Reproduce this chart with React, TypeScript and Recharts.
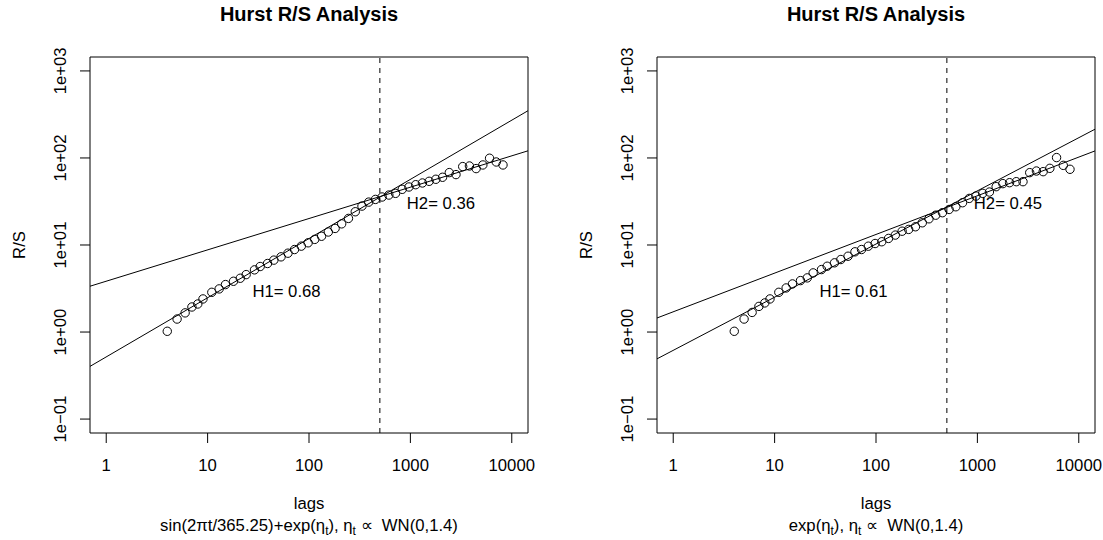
import React from 'react';
import {
  ComposedChart,
  Scatter,
  XAxis,
  YAxis,
  ReferenceLine,
  ReferenceArea,
  ReferenceDot,
} from 'recharts';

// ---------- data ----------
const LAGS = [4, 5, 6, 7, 8, 9, 11, 13, 15, 18, 21, 24, 29, 33, 39, 45, 53, 62, 72, 84, 98, 114, 133, 155, 181, 210, 245, 286, 333, 388, 452, 526, 613, 714, 831, 968, 1128, 1314, 1531, 1783, 2077, 2419, 2817, 3281, 3821, 4451, 5184, 6038, 7032, 8192];

const RS_SIN = [1.02, 1.41, 1.66, 1.94, 2.1, 2.4, 2.86, 3.13, 3.51, 3.83, 4.15, 4.57, 5.18, 5.66, 6.13, 6.7, 7.31, 8.05, 8.87, 9.7, 10.6, 11.6, 12.6, 14.1, 15.5, 17.5, 20.2, 24.1, 28.0, 31.1, 33.4, 35.6, 37.5, 39.2, 43.6, 46.4, 49.3, 51.6, 53.9, 56.9, 60.0, 67.9, 64.4, 79.6, 80.9, 75.5, 83.1, 99.3, 89.9, 83.1];

const RS_EXP = [1.02, 1.41, 1.68, 1.97, 2.16, 2.4, 2.86, 3.21, 3.57, 3.9, 4.19, 4.78, 5.22, 5.7, 6.24, 6.81, 7.43, 8.35, 8.87, 9.69, 10.4, 10.9, 11.9, 13.0, 14.4, 15.1, 16.2, 18.0, 20.0, 22.0, 23.5, 25.6, 27.5, 30.6, 34.3, 36.5, 39.2, 40.6, 46.8, 50.7, 52.0, 53.4, 53.4, 67.8, 70.8, 69.6, 76.0, 101, 82.2, 74.1];

const X_MIN = 0.6918;
const X_MAX = 14454;
const Y_MIN = 0.06918;
const Y_MAX = 1445.4;
const X_TICKS = [1, 10, 100, 1000, 10000];
const X_TICK_LABELS = ['1', '10', '100', '1000', '10000'];
const Y_TICKS = [0.1, 1, 10, 100, 1000];
const Y_TICK_LABELS = ['1e\u221201', '1e+00', '1e+01', '1e+02', '1e+03'];

const BREAK_LAG = 500;

// fitted lines: [y at X_MIN, y at X_MAX]
const FIT_SIN_H1 = [0.403, 349];
const FIT_SIN_H2 = [3.36, 120.8];
const FIT_EXP_H1 = [0.492, 214];
const FIT_EXP_H2 = [1.45, 120.5];

const LABEL_H1_POS = [60, 3];
const LABEL_H2_POS = [2000, 30];

const FONT = '"Liberation Sans", Arial, Helvetica, sans-serif';
const FS = 16.7;

type PanelProps = {
  left: number;
  width: number;
  rs: number[];
  fit1: number[];
  fit2: number[];
  h1: string;
  h2: string;
  sub: React.ReactNode;
};

const XTick = (props: any) => {
  const { x, y, payload } = props;
  const i = X_TICKS.indexOf(payload.value);
  return (
    <text x={x} y={y + 26} textAnchor="middle" fontFamily={FONT} fontSize={FS} fill="#000">
      {X_TICK_LABELS[i]}
    </text>
  );
};

const YTick = (props: any) => {
  const { x, y, payload } = props;
  const i = Y_TICKS.findIndex((t) => Math.abs(t - payload.value) < t * 1e-6);
  const bx = x - 12;
  return (
    <text
      x={bx}
      y={y}
      transform={`rotate(-90 ${bx} ${y})`}
      textAnchor="middle"
      fontFamily={FONT}
      fontSize={FS}
      fill="#000"
    >
      {Y_TICK_LABELS[i]}
    </text>
  );
};

const Circle = (props: any) => (
  <circle cx={props.cx} cy={props.cy} r={4.2} fill="none" stroke="#000" strokeWidth={1} />
);

const makeLabel = (txt: string) => (props: any) => (
  <text x={props.cx} y={props.cy + 6} textAnchor="middle" fontFamily={FONT} fontSize={FS} fill="#000">
    {txt}
  </text>
);

const Panel = ({ left, width, rs, fit1, fit2, h1, h2, sub }: PanelProps) => {
  const data = LAGS.map((l, i) => ({ x: l, y: rs[i] }));
  const plotLeft = 90;
  const plotW = 438;
  const cx = plotLeft + plotW / 2;
  return (
    <div style={{ position: 'absolute', left, top: 0, width, height: 540 }}>
      <ComposedChart
        width={width}
        height={540}
        margin={{ top: 57, right: width - plotLeft - plotW, bottom: 0, left: 0 }}
      >
        <XAxis
          dataKey="x"
          type="number"
          scale="log"
          domain={[X_MIN, X_MAX]}
          allowDataOverflow
          ticks={X_TICKS}
          interval={0}
          axisLine={false}
          tickLine={{ stroke: '#000' }}
          tickSize={10}
          height={107}
          tick={<XTick />}
        />
        <YAxis
          dataKey="y"
          type="number"
          scale="log"
          domain={[Y_MIN, Y_MAX]}
          allowDataOverflow
          ticks={Y_TICKS}
          interval={0}
          axisLine={false}
          tickLine={{ stroke: '#000' }}
          tickSize={10}
          width={90}
          tick={<YTick />}
        />
        <ReferenceArea
          x1={X_MIN}
          x2={X_MAX}
          y1={Y_MIN}
          y2={Y_MAX}
          fill="none"
          stroke="#000"
          strokeWidth={1}
          fillOpacity={0}
          ifOverflow="visible"
        />
        <ReferenceLine
          segment={[{ x: X_MIN, y: fit1[0] }, { x: X_MAX, y: fit1[1] }]}
          stroke="#000"
          strokeWidth={1}
          ifOverflow="hidden"
        />
        <ReferenceLine
          segment={[{ x: X_MIN, y: fit2[0] }, { x: X_MAX, y: fit2[1] }]}
          stroke="#000"
          strokeWidth={1}
          ifOverflow="hidden"
        />
        <ReferenceLine x={BREAK_LAG} stroke="#000" strokeWidth={1} strokeDasharray="5 5" />
        <Scatter data={data} dataKey="y" shape={<Circle />} isAnimationActive={false} />
        <ReferenceDot x={LABEL_H1_POS[0]} y={LABEL_H1_POS[1]} r={0} shape={makeLabel(h1)} />
        <ReferenceDot x={LABEL_H2_POS[0]} y={LABEL_H2_POS[1]} r={0} shape={makeLabel(h2)} />
      </ComposedChart>
      <svg
        width={width}
        height={540}
        style={{ position: 'absolute', left: 0, top: 0, pointerEvents: 'none' }}
      >
        <text x={cx} y={21} textAnchor="middle" fontFamily={FONT} fontSize={20} fontWeight="bold" fill="#000">
          Hurst R/S Analysis
        </text>
        <text x={cx} y={509} textAnchor="middle" fontFamily={FONT} fontSize={FS} fill="#000">
          lags
        </text>
        <text x={cx} y={531} textAnchor="middle" fontFamily={FONT} fontSize={FS} fill="#000">
          {sub}
        </text>
        <text
          x={25}
          y={245}
          transform="rotate(-90 25 245)"
          textAnchor="middle"
          fontFamily={FONT}
          fontSize={FS}
          fill="#000"
        >
          R/S
        </text>
      </svg>
    </div>
  );
};

const subSin = (
  <>
    sin(2πt/365.25)+exp(η<tspan dy={4} fontSize={12}>t</tspan>
    <tspan dy={-4}>), η</tspan>
    <tspan dy={4} fontSize={12}>t</tspan>
    <tspan dy={-4}>{'\u00A0\u221D\u00A0\u00A0WN(0,1.4)'}</tspan>
  </>
);

const subExp = (
  <>
    exp(η<tspan dy={4} fontSize={12}>t</tspan>
    <tspan dy={-4}>), η</tspan>
    <tspan dy={4} fontSize={12}>t</tspan>
    <tspan dy={-4}>{'\u00A0\u221D\u00A0\u00A0WN(0,1.4)'}</tspan>
  </>
);

export default function App() {
  return (
    <div style={{ position: 'absolute', left: 0, top: 0, width: 1103, height: 540, background: '#fff' }}>
      <Panel left={0} width={560} rs={RS_SIN} fit1={FIT_SIN_H1} fit2={FIT_SIN_H2} h1="H1= 0.68" h2="H2= 0.36" sub={subSin} />
      <Panel left={567} width={536} rs={RS_EXP} fit1={FIT_EXP_H1} fit2={FIT_EXP_H2} h1="H1= 0.61" h2="H2= 0.45" sub={subExp} />
    </div>
  );
}
